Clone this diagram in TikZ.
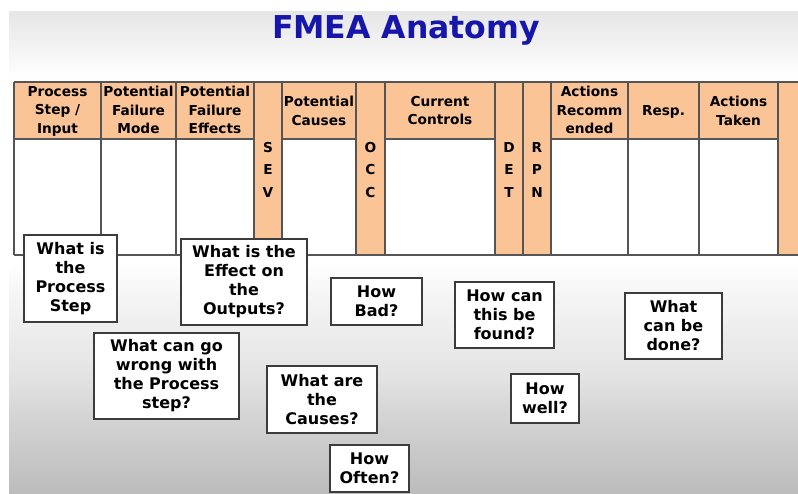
\documentclass[tikz,border=0pt]{standalone}
\usepackage{fontspec}
\setmainfont{DejaVu Sans}

\definecolor{hdr}{RGB}{250,196,150}
\definecolor{tabrule}{RGB}{85,85,85}
\definecolor{boxrule}{RGB}{60,60,60}
\definecolor{titleblue}{RGB}{22,22,170}
\definecolor{bgtop}{RGB}{230,230,230}
\definecolor{bgsoft}{RGB}{244,244,244}
\definecolor{bgmid}{RGB}{226,226,226}
\definecolor{bglow}{RGB}{214,214,214}
\definecolor{bgbot}{RGB}{188,188,188}

% slide background: light band at the top, white middle, grey towards the bottom
\pgfdeclareverticalshading{slidebg}{100bp}{%
  color(0bp)=(bgbot); color(25bp)=(bgbot); color(33.6bp)=(bglow);
  color(36.7bp)=(bgmid); color(45bp)=(bgsoft); color(49bp)=(white);
  color(68bp)=(white); color(75bp)=(bgtop); color(100bp)=(bgtop)}

\tikzset{
  tabline/.style={draw=tabrule, line width=1.3pt},
  hdrtext/.style={font=\bfseries\fontsize{13.7}{18.5}\selectfont, align=center,
                  inner sep=0pt, anchor=north, text=black},
  lettertext/.style={font=\bfseries\fontsize{13.7}{22.5}\selectfont, align=center,
                  inner sep=0pt, anchor=north, text=black},
  qbox/.style={draw=boxrule, line width=1.4pt, fill=white, rectangle,
               font=\bfseries\fontsize{16}{19}\selectfont, align=center,
               inner sep=0pt, text=black},
  titletext/.style={font=\bfseries\fontsize{31.5}{36}\selectfont, text=titleblue,
                    inner sep=0pt, anchor=base}
}

\begin{document}
\begin{tikzpicture}[x=1pt, y=-1pt]
  \useasboundingbox (0,0) rectangle (798,493);
  \fill[white] (0,0) rectangle (798,493);
  \shade[shading=slidebg] (9,11) rectangle (798,493);

  % title
  \node[titletext] (title) at (406,38.5) {FMEA Anatomy};

  % table: header band and full-height rating columns
  \fill[hdr] (14,82) rectangle (798,139);
  \foreach \a/\b in {254/282, 356/385, 495/523, 523/551, 778/798}
    \fill[hdr] (\a,139) rectangle (\b,255);
  \foreach \a/\b in {14/101, 101/176, 176/254, 282/356, 385/495, 551/628, 628/699, 699/778}
    \fill[white] (\a,139) rectangle (\b,255);

  % table rules
  \draw[tabline] (14,82) -- (798,82);
  \draw[tabline] (14,255) -- (798,255);
  \foreach \x in {14, 101, 176, 254, 282, 356, 385, 495, 523, 551, 628, 699, 778}
    \draw[tabline] (\x,82) -- (\x,255);
  \foreach \a/\b in {14/101, 101/176, 176/254, 282/356, 385/495, 551/628, 628/699, 699/778}
    \draw[tabline] (\a,139) -- (\b,139);

  % column headings
  \node[hdrtext] (h1)  at (57.5,86)  {Process\\Step /\\Input};
  \node[hdrtext] (h2)  at (138.5,86) {Potential\\Failure\\Mode};
  \node[hdrtext] (h3)  at (215,86)   {Potential\\Failure\\Effects};
  \node[hdrtext] (h5)  at (319,96)   {Potential\\Causes};
  \node[hdrtext] (h7)  at (440,96)   {Current\\Controls};
  \node[hdrtext] (h10) at (589.5,86) {Actions\\Recomm\\ended};
  \node[hdrtext] (h11) at (663.5,105) {Resp.};
  \node[hdrtext] (h12) at (738.5,96) {Actions\\Taken};

  % rating columns, written downwards
  \node[lettertext] (sev) at (268,142)   {S\\E\\V};
  \node[lettertext] (occ) at (370.5,142) {O\\C\\C};
  \node[lettertext] (det) at (509,142)   {D\\E\\T};
  \node[lettertext] (rpn) at (537,142)   {R\\P\\N};

  % question boxes
  \node[qbox, minimum width=93,  minimum height=87] (q1) at (70.5,278.5)  {What is\\the\\Process\\Step};
  \node[qbox, minimum width=126, minimum height=86] (q2) at (244,282)     {What is the\\Effect on\\the\\Outputs?};
  \node[qbox, minimum width=91,  minimum height=47] (q3) at (376.5,301.5) {How\\Bad?};
  \node[qbox, minimum width=145, minimum height=86] (q4) at (166.5,376)   {What can go\\wrong with\\the Process\\step?};
  \node[qbox, minimum width=110, minimum height=67] (q5) at (322,399.5)   {What are\\the\\Causes?};
  \node[qbox, minimum width=79,  minimum height=47] (q6) at (369.5,468.5) {How\\Often?};
  \node[qbox, minimum width=99,  minimum height=66] (q7) at (504.5,315)   {How can\\this be\\found?};
  \node[qbox, minimum width=68,  minimum height=49] (q8) at (545,398.5)   {How\\well?};
  \node[qbox, minimum width=97,  minimum height=66] (q9) at (673.5,326)   {What\\can be\\done?};
\end{tikzpicture}
\end{document}
